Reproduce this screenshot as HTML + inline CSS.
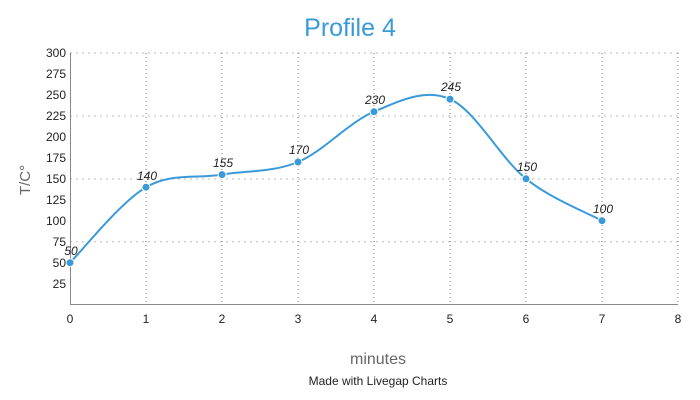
<!DOCTYPE html>
<html><head><meta charset="utf-8"><style>body{margin:0;background:#fff}svg{display:block}</style></head><body>
<svg width="700" height="400" viewBox="0 0 700 400" font-family="Liberation Sans, sans-serif">
<text x="350" y="36" text-anchor="middle" font-size="25" fill="#3a9ad9">Profile 4</text>
<g stroke="#bbb" stroke-dasharray="2,4" stroke-width="1">
<line x1="70" y1="53" x2="678" y2="53"/><line x1="70" y1="116" x2="678" y2="116"/><line x1="70" y1="179" x2="678" y2="179"/><line x1="70" y1="241.7" x2="678" y2="241.7"/>
</g>
<g stroke="#777" stroke-dasharray="1,3" stroke-width="1">
<line x1="146" y1="53" x2="146" y2="304"/><line x1="222" y1="53" x2="222" y2="304"/><line x1="298" y1="53" x2="298" y2="304"/><line x1="374" y1="53" x2="374" y2="304"/><line x1="450" y1="53" x2="450" y2="304"/><line x1="526" y1="53" x2="526" y2="304"/><line x1="602" y1="53" x2="602" y2="304"/><line x1="678" y1="53" x2="678" y2="304"/>
</g>
<line x1="70.5" y1="53" x2="70.5" y2="305" stroke="#888"/>
<line x1="70" y1="304.5" x2="678" y2="304.5" stroke="#888"/>
<g font-size="12" fill="#222" text-anchor="end">
<text x="66" y="57">300</text><text x="66" y="78">275</text><text x="66" y="99">250</text><text x="66" y="120">225</text><text x="66" y="141">200</text><text x="66" y="162">175</text><text x="66" y="183">150</text><text x="66" y="204">125</text><text x="66" y="225">100</text><text x="66" y="246">75</text><text x="66" y="267">50</text><text x="66" y="288">25</text>
</g>
<g font-size="12" fill="#222" text-anchor="middle">
<text x="70" y="323">0</text><text x="146" y="323">1</text><text x="222" y="323">2</text><text x="298" y="323">3</text><text x="374" y="323">4</text><text x="450" y="323">5</text><text x="526" y="323">6</text><text x="602" y="323">7</text><text x="678" y="323">8</text>
</g>
<text transform="translate(30,180) rotate(-90)" text-anchor="middle" font-size="15" fill="#666">T/C°</text>
<text x="378" y="364" text-anchor="middle" font-size="16" fill="#666">minutes</text>
<text x="378" y="385" text-anchor="middle" font-size="12" fill="#222">Made with Livegap Charts</text>
<path d="M70,262.7 C82.7,250.1 120.7,201.9 146,187.2 C171.3,172.5 196.7,178.8 222,174.6 C247.3,170.4 272.7,172.5 298,162 C323.3,151.5 348.7,122.2 374,111.7 C399.3,101.2 424.7,87.9 450,99.1 C475.3,110.3 500.7,158.5 526,178.8 C551.3,199.1 589.3,213.7 602,220.7" fill="none" stroke="#3a9ad9" stroke-width="2"/>
<g fill="#3a9ad9" stroke="#fff" stroke-width="1">
<circle cx="70" cy="262.7" r="4"/><circle cx="146" cy="187.2" r="4"/><circle cx="222" cy="174.6" r="4"/><circle cx="298" cy="162" r="4"/><circle cx="374" cy="111.7" r="4"/><circle cx="450" cy="99.1" r="4"/><circle cx="526" cy="178.8" r="4"/><circle cx="602" cy="220.7" r="4"/>
</g>
<g font-size="12" font-style="italic" fill="#222" text-anchor="middle">
<text x="71" y="255">50</text><text x="147" y="180">140</text><text x="223" y="167">155</text><text x="299" y="154">170</text><text x="375" y="104">230</text><text x="451" y="91">245</text><text x="527" y="171">150</text><text x="603" y="213">100</text>
</g>
</svg>
</body></html>
